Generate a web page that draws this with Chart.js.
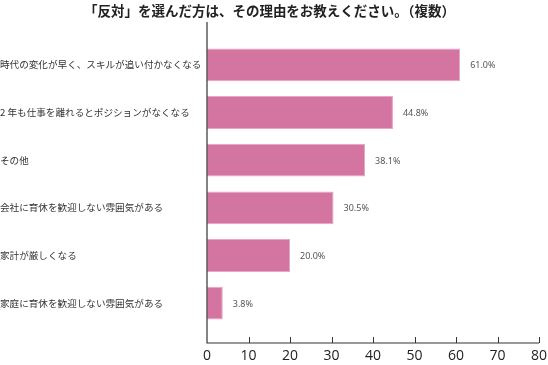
<!DOCTYPE html>
<html>
<head>
<meta charset="utf-8">
<script src="https://cdn.jsdelivr.net/npm/chart.js@4"></script>
<style>
  html, body { margin: 0; padding: 0; background: #fff; }
  #wrap { width: 548px; height: 365px; }
</style>
</head>
<body>
<div id="wrap"><canvas id="chart" width="548" height="365"></canvas></div>
<script>
// data
const categories = [
    '時代の変化が早く、スキルが追い付かなくなる',
    '2 年も仕事を離れるとポジションがなくなる',
    'その他',
    '会社に育休を歓迎しない雰囲気がある',
    '家計が厳しくなる',
    '家庭に育休を歓迎しない雰囲気がある'
];
const percents = [61.0, 44.8, 38.1, 30.5, 20.0, 3.8];
const xTicks = [0, 10, 20, 30, 40, 50, 60, 70, 80];
const titleText = '「反対」を選んだ方は、その理由をお教えください。（複数）';

// axis lines + value labels drawn on top
const axisPlugin = {
    id: 'axisLines',
    afterDatasetsDraw(chart) {
        const ctx = chart.ctx;
        const x = chart.scales.x;
        const area = chart.chartArea;
        const axisY = 343;
        ctx.save();
        ctx.strokeStyle = '#333';
        ctx.lineWidth = 1.2;
        ctx.beginPath();
        ctx.moveTo(area.left, 22);
        ctx.lineTo(area.left, axisY);
        ctx.lineTo(x.getPixelForValue(80), axisY);
        ctx.stroke();
        ctx.lineWidth = 1;
        xTicks.forEach(v => {
            if (v === 0) return;
            const px = Math.round(x.getPixelForValue(v)) + 0.5;
            ctx.beginPath();
            ctx.moveTo(px, axisY);
            ctx.lineTo(px, axisY - 6);
            ctx.stroke();
        });

        // value labels
        const meta = chart.getDatasetMeta(0);
        ctx.fillStyle = '#555';
        ctx.font = '9px "Noto Sans", sans-serif';
        ctx.textBaseline = 'middle';
        ctx.textAlign = 'left';
        meta.data.forEach((bar, i) => {
            ctx.fillText(percents[i].toFixed(1) + '%', bar.x + 10, bar.y + 1);
        });
        ctx.restore();
    }
};

new Chart(document.getElementById('chart'), {
    type: 'bar',
    data: {
        labels: categories,
        datasets: [{
            data: percents,
            backgroundColor: 'rgb(212, 116, 160)',
            borderColor: 'rgb(232, 165, 196)',
            borderWidth: 1,
            borderSkipped: false,
            barPercentage: 0.69,
            categoryPercentage: 1.0
        }]
    },
    options: {
        indexAxis: 'y',
        responsive: false,
        animation: false,
        layout: { padding: { left: 0, right: 9, top: 3, bottom: 0 } },
        plugins: {
            legend: { display: false },
            tooltip: { enabled: false },
            title: {
                display: true,
                text: titleText,
                color: '#222',
                font: { family: '"Noto Sans CJK JP", sans-serif', size: 13.5, weight: 'bold', lineHeight: 1.2 },
                padding: { top: 0, bottom: 21.8 }
            }
        },
        scales: {
            x: {
                min: 0,
                max: 80,
                grid: { display: false, drawTicks: true, tickLength: 21 },
                border: { display: false },
                afterBuildTicks(scale) {
                    scale.ticks = xTicks.map(v => ({ value: v }));
                },
                afterFit(scale) {
                    scale.height = 38;
                    scale.paddingRight = 0;
                    scale.paddingLeft = 0;
                },
                ticks: {
                    padding: 0,
                    color: '#222',
                    font: { family: '"Open Sans", sans-serif', size: 14 },
                    maxRotation: 0
                }
            },
            y: {
                grid: { display: false, drawTicks: false },
                border: { display: false },
                afterFit(scale) {
                    scale.width = 207;
                    scale.paddingTop = 0;
                    scale.paddingBottom = 0;
                },
                ticks: {
                    crossAlign: 'far',
                    padding: 6,
                    color: '#333',
                    font: { family: '"Noto Sans CJK JP", sans-serif', size: 9.6 }
                }
            }
        }
    },
    plugins: [axisPlugin]
});
</script>
</body>
</html>
